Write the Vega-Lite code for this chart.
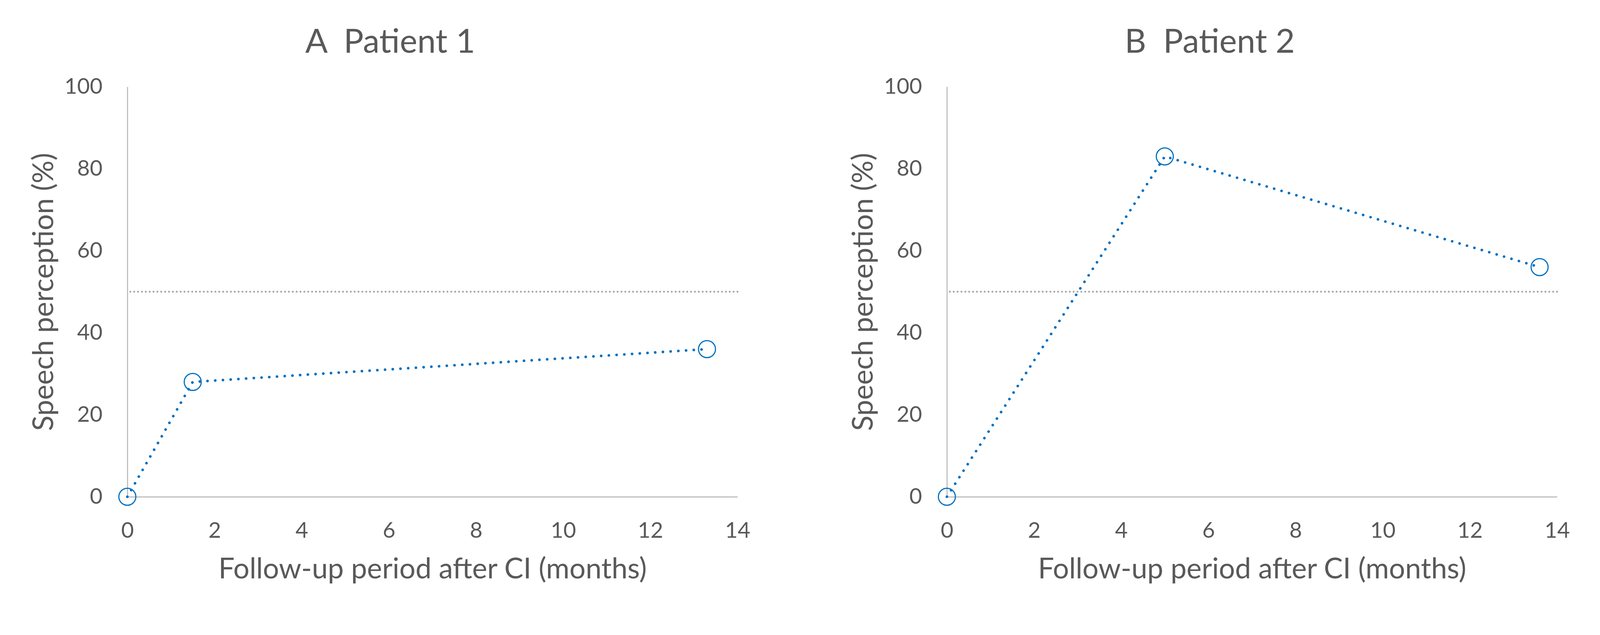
{
  "$schema": "https://vega.github.io/schema/vega-lite/v6.json",
  "background": "white",
  "padding": {"left": 77, "top": 67, "right": 60, "bottom": 69},
  "config": {
    "font": "Lato",
    "view": {"stroke": null},
    "concat": {"spacing": 254},
    "axis": {
      "grid": false,
      "ticks": false,
      "labelFlush": false,
      "labelOverlap": false,
      "domainColor": "#bfbfbf",
      "domainWidth": 2.9,
      "labelColor": "#595959",
      "labelFontSize": 56,
      "labelFont": "Lato",
      "titleColor": "#595959",
      "titleFontSize": 73,
      "titleFont": "Lato",
      "titleFontWeight": "normal"
    },
    "title": {"color": "#595959", "fontSize": 85, "font": "Lato", "fontWeight": "normal", "anchor": "middle", "frame": "bounds", "offset": 41}
  },
  "datasets": {
    "patient1": [
      {"months": 0, "perception": 0},
      {"months": 1.5, "perception": 28},
      {"months": 13.3, "perception": 36}
    ],
    "patient2": [
      {"months": 0, "perception": 0},
      {"months": 5, "perception": 83},
      {"months": 13.6, "perception": 56}
    ],
    "threshold": [{"perception": 50}]
  },
  "hconcat": [
    {
      "width": 1562,
      "height": 1050,
      "title": {"text": "A\u00a0\u00a0Patient 1"},
      "layer": [
        {
          "data": {"name": "threshold"},
          "mark": {"type": "rule", "color": "#a6a6a6", "strokeWidth": 4.8, "strokeDash": [0.1, 9.8], "strokeCap": "round"},
          "encoding": {"y": {"field": "perception", "type": "quantitative", "scale": {"domain": [0, 100], "nice": false}}}
        },
        {
          "data": {"name": "patient1"},
          "mark": {"type": "line", "color": "#0070C0", "strokeWidth": 6.7, "strokeDash": [0.1, 19.7], "strokeCap": "round", "clip": false},
          "encoding": {
            "x": {"field": "months", "type": "quantitative", "scale": {"domain": [0, 14], "nice": false}, "axis": {"values": [0, 2, 4, 6, 8, 10, 12, 14], "format": "d", "labelPadding": 60, "titlePadding": 35, "title": "Follow-up period after CI (months)"}},
            "y": {"field": "perception", "type": "quantitative", "scale": {"domain": [0, 100], "nice": false}, "axis": {"values": [0, 20, 40, 60, 80, 100], "format": "d", "labelPadding": 64, "titlePadding": 14, "title": "Speech perception (%)"}}
          }
        },
        {
          "data": {"name": "patient1"},
          "mark": {"type": "point", "shape": "circle", "filled": false, "color": "#0070C0", "strokeWidth": 2.9, "size": 1895, "opacity": 1, "clip": false},
          "encoding": {
            "x": {"field": "months", "type": "quantitative"},
            "y": {"field": "perception", "type": "quantitative"}
          }
        }
      ]
    },
    {
      "width": 1562,
      "height": 1050,
      "title": {"text": "B\u00a0\u00a0Patient 2"},
      "layer": [
        {
          "data": {"name": "threshold"},
          "mark": {"type": "rule", "color": "#a6a6a6", "strokeWidth": 4.8, "strokeDash": [0.1, 9.8], "strokeCap": "round"},
          "encoding": {"y": {"field": "perception", "type": "quantitative", "scale": {"domain": [0, 100], "nice": false}}}
        },
        {
          "data": {"name": "patient2"},
          "mark": {"type": "line", "color": "#0070C0", "strokeWidth": 6.7, "strokeDash": [0.1, 19.7], "strokeCap": "round", "clip": false},
          "encoding": {
            "x": {"field": "months", "type": "quantitative", "scale": {"domain": [0, 14], "nice": false}, "axis": {"values": [0, 2, 4, 6, 8, 10, 12, 14], "format": "d", "labelPadding": 60, "titlePadding": 35, "title": "Follow-up period after CI (months)"}},
            "y": {"field": "perception", "type": "quantitative", "scale": {"domain": [0, 100], "nice": false}, "axis": {"values": [0, 20, 40, 60, 80, 100], "format": "d", "labelPadding": 64, "titlePadding": 14, "title": "Speech perception (%)"}}
          }
        },
        {
          "data": {"name": "patient2"},
          "mark": {"type": "point", "shape": "circle", "filled": false, "color": "#0070C0", "strokeWidth": 2.9, "size": 1895, "opacity": 1, "clip": false},
          "encoding": {
            "x": {"field": "months", "type": "quantitative"},
            "y": {"field": "perception", "type": "quantitative"}
          }
        }
      ]
    }
  ]
}
